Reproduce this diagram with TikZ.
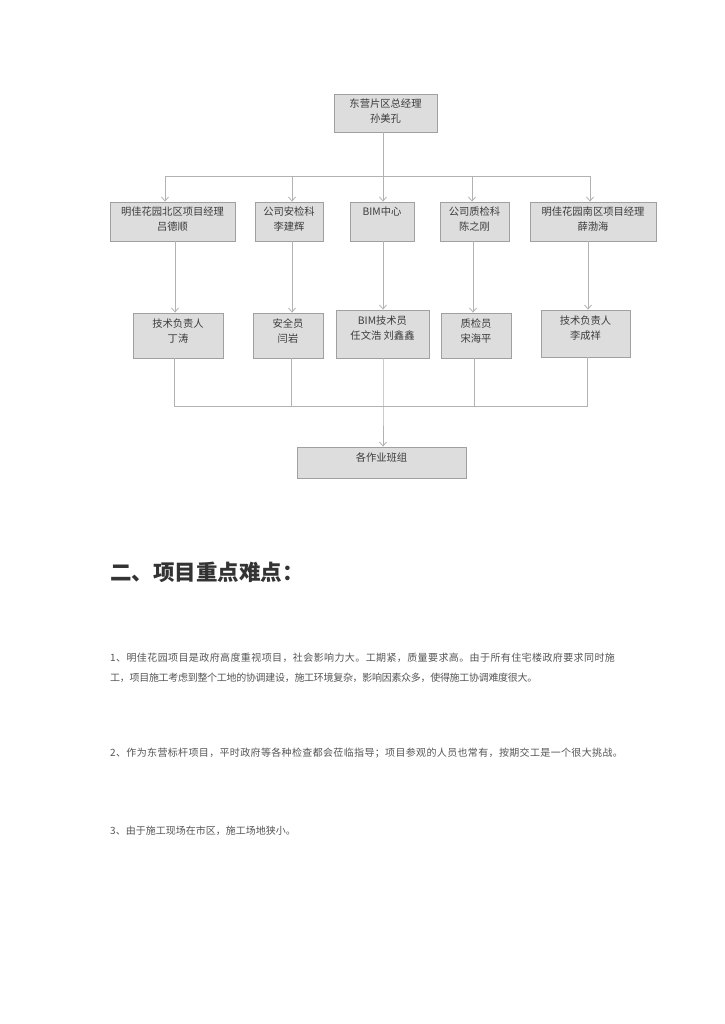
\documentclass[tikz,border=0pt]{standalone}
\usepackage{fontspec}
\setmainfont{Noto Sans CJK SC}
\usetikzlibrary{
  arrows.meta,
  calc
}
\definecolor{boxgray}{RGB}{221,221,221}
\definecolor{edgegray}{RGB}{160,160,160}
\definecolor{linegray}{RGB}{178,178,178}
\definecolor{inkgray}{RGB}{60,60,60}
\definecolor{headgray}{RGB}{51,51,51}
\definecolor{bodygray}{RGB}{85,85,85}
% text sits near the top of each box
\newcommand{\orgtxt}[3]{\parbox[c][#2][t]{#1}{\centering\rule{0pt}{14pt}#3}}

\begin{document}
\begin{tikzpicture}[x=1pt, y=-1pt,
  orgbox/.style={draw=edgegray, fill=boxgray, line width=0.8pt, inner sep=0pt,
    text=inkgray, font=\fontsize{10.3}{15}\selectfont},
  conn/.style={draw=linegray, line width=0.8pt},
  arr/.style={-{Straight Barb[length=4pt,width=7pt]}},
  bodyline/.style={anchor=base west, inner sep=0pt, text=bodygray,
    font=\fontsize{10}{14}\selectfont}]
  \fill[white] (0,0) rectangle (724,1024);
  \useasboundingbox (0,0) rectangle (724,1024);

  % chart
  \node[orgbox] (top) at (385.5,113) {\orgtxt{103pt}{38pt}{东营片区总经理\\孙美孔}};

  \node[orgbox] (b1) at (172.5,221.5) {\orgtxt{125pt}{39pt}{明佳花园北区项目经理\\吕德顺}};
  \node[orgbox] (b2) at (289,221.5) {\orgtxt{68pt}{39pt}{公司安检科\\李建辉}};
  \node[orgbox] (b3) at (382,221.5) {\orgtxt{64pt}{39pt}{BIM中心}};
  \node[orgbox] (b4) at (474.5,221.5) {\orgtxt{69pt}{39pt}{公司质检科\\陈之刚}};
  \node[orgbox] (b5) at (593,221.5) {\orgtxt{126pt}{39pt}{明佳花园南区项目经理\\薛渤海}};

  \node[orgbox] (c1) at (178,335.5) {\orgtxt{90pt}{45pt}{技术负责人\\丁涛}};
  \node[orgbox] (c2) at (288,335.5) {\orgtxt{70pt}{45pt}{安全员\\闫岩}};
  \node[orgbox] (c3) at (382.5,334) {\orgtxt{93pt}{48pt}{BIM技术员\\任文浩\ 刘鑫鑫}};
  \node[orgbox] (c4) at (476,335.5) {\orgtxt{70pt}{45pt}{质检员\\宋海平}};
  \node[orgbox] (c5) at (585.5,333.5) {\orgtxt{89pt}{47pt}{技术负责人\\李成祥}};

  \node[orgbox] (d) at (381.5,462.5) {\orgtxt{169pt}{31pt}{各作业班组}};

  \coordinate (split) at (383,176);
  \coordinate (merge) at (383,406);

  \draw[conn] ([xshift=-2.5pt]top.south) -- (split);
  \draw[conn,arr] (split) -| ([xshift=-7.5pt]b1.north);
  \draw[conn,arr] (split) -| ([xshift=3pt]b2.north);
  \draw[conn,arr] (split) -- ([xshift=1pt]b3.north);
  \draw[conn,arr] (split) -| ([xshift=-2.5pt]b4.north);
  \draw[conn,arr] (split) -| ([xshift=-3pt]b5.north);

  \draw[conn,arr] ([xshift=2.5pt]b1.south) -- ([xshift=-3pt]c1.north);
  \draw[conn,arr] ([xshift=3pt]b2.south) -- ([xshift=4pt]c2.north);
  \draw[conn,arr] ([xshift=1pt]b3.south) -- ([xshift=0.5pt]c3.north);
  \draw[conn,arr] ([xshift=-1.5pt]b4.south) -- ([xshift=-3pt]c4.north);
  \draw[conn,arr] ([xshift=-5pt]b5.south) -- ([xshift=2.5pt]c5.north);

  \draw[conn] ([xshift=-4pt]c1.south) |- (merge);
  \draw[conn] ([xshift=3pt]c2.south) |- (merge);
  \draw[conn] ([xshift=-2pt]c4.south) |- (merge);
  \draw[conn] ([xshift=1.5pt]c5.south) |- (merge);
  \draw[conn,arr] ([xshift=0.5pt]c3.south) -- (merge) -- ([xshift=1.5pt]d.north);

  % text below the chart
  \node[anchor=base west, inner sep=0pt, text=headgray,
    font=\bfseries\fontsize{21.5}{25}\selectfont] (title) at (110,580) {二、项目重点难点：};

  \node[bodyline] (p1a) at (110,661)
    {\addfontfeature{LetterSpace=4}1、明佳花园项目是政府高度重视项目，社会影响力大。工期紧，质量要求高。由于所有住宅楼政府要求同时施};
  \node[bodyline] (p1b) at (110,681)
    {\addfontfeature{LetterSpace=-3}工，项目施工考虑到整个工地的协调建设，施工环境复杂，影响因素众多，使得施工协调难度很大。};
  \node[bodyline] (p2) at (110,756)
    {\addfontfeature{LetterSpace=3.5}2、作为东营标杆项目，平时政府等各种检查都会莅临指导；项目参观的人员也常有，按期交工是一个很大挑战。};
  \node[bodyline] (p3) at (110,834)
    {3、由于施工现场在市区，施工场地狭小。};
\end{tikzpicture}
\end{document}
